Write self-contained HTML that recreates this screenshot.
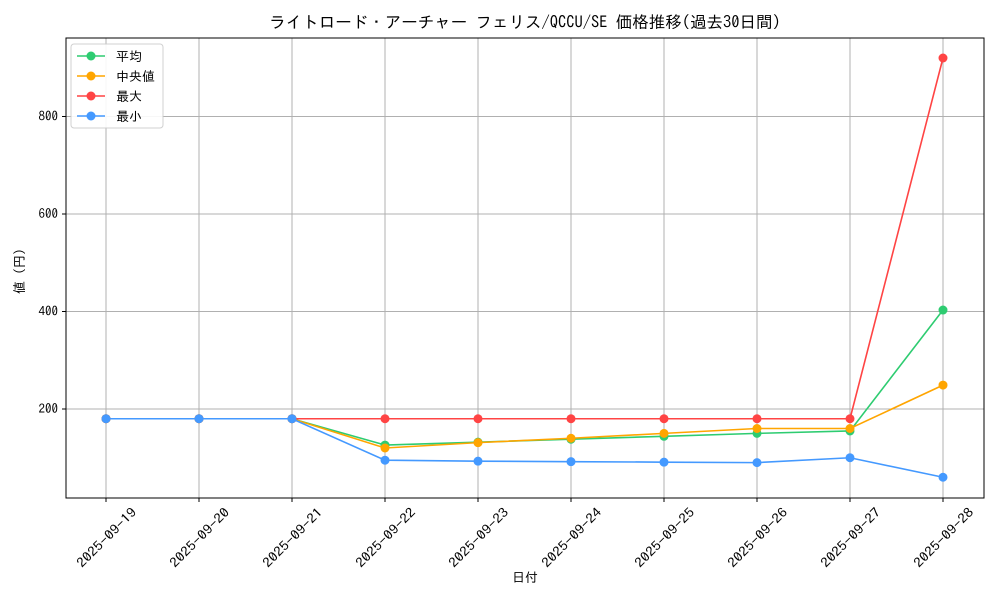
<!DOCTYPE html>
<html><head><meta charset="utf-8"><style>
body{margin:0;background:#fff;}
svg text{font-family:"IPAGothic","Noto Sans CJK JP",sans-serif;fill:#000;}
</style></head><body>
<svg id="chart" width="1000" height="600" xmlns="http://www.w3.org/2000/svg">
<rect width="1000" height="600" fill="#fff"/>
<text x="525" y="28" font-size="16.5" text-anchor="middle">ライトロード・アーチャー フェリス/QCCU/SE 価格推移(過去30日間)</text>
<g id="grid"></g>
<g id="series"></g>
<rect x="66" y="38" width="918" height="460" fill="none" stroke="#000" stroke-width="1"/>
<text x="525" y="582" font-size="13" text-anchor="middle">日付</text>
<text transform="translate(24,268) rotate(-90)" font-size="13" text-anchor="middle">値（円）</text>
<g id="legend">
<rect x="71" y="44" width="92" height="84" rx="3" fill="#fff" stroke="#ccc" opacity="0.9"/>
</g>
</svg>
<script>
const dates=["2025-09-19","2025-09-20","2025-09-21","2025-09-22","2025-09-23","2025-09-24","2025-09-25","2025-09-26","2025-09-27","2025-09-28"];
const meanVals=[180,180,180,126,132,138,144,150,155,403];
const medianVals=[180,180,180,120,131,140,150,160,160,249];
const maxVals=[180,180,180,180,180,180,180,180,180,920];
const minVals=[180,180,180,95,93,92,91,90,100,60];
const yTicks=[200,400,600,800];
const seriesNames=["平均","中央値","最大","最小"];
const colors=["#2ecc71","#ffa500","#ff4444","#4499ff"];
const NS="http://www.w3.org/2000/svg";
function xs(i){return 106+i*93;}
function ys(v){return 409-(v-200)*0.4875;}
function mk(tag,attrs,parent){const e=document.createElementNS(NS,tag);for(const k in attrs)e.setAttribute(k,attrs[k]);parent.appendChild(e);return e;}
const grid=document.getElementById('grid'),svg=document.getElementById('chart');
dates.forEach((d,i)=>{
 const l=mk('line',{x1:xs(i),x2:xs(i),y1:38,y2:498,stroke:'#b0b0b0','stroke-width':1},grid);
 
 
 const t=mk('line',{x1:xs(i),x2:xs(i),y1:498,y2:502,stroke:'#000'},grid);
 
 
 const cx=xs(i)+1,cy=538;
 const tx=mk('text',{x:cx,y:cy+4,'font-size':13,'text-anchor':'middle',textLength:78,lengthAdjust:'spacingAndGlyphs',transform:`rotate(-45 ${cx} ${cy})`},svg);
 tx.textContent=d;
 
 
});
yTicks.forEach(v=>{
 const l=mk('line',{x1:66,x2:984,y1:ys(v),y2:ys(v),stroke:'#b0b0b0','stroke-width':1},grid);
 
 
 const t=mk('line',{x1:62,x2:66,y1:ys(v),y2:ys(v),stroke:'#000'},grid);
 
 
 const tx=mk('text',{x:58,y:ys(v)+4,'font-size':13,'text-anchor':'end'},svg);
 tx.textContent=v;
 
 
});
const ser=document.getElementById('series');
const all=[meanVals,medianVals,maxVals,minVals];
const keys=['mean','median','max','min'];
all.forEach((vals,s)=>{
 const g=mk('g',{},ser);
 
 
 const p=mk('polyline',{points:vals.map((v,i)=>xs(i)+','+ys(v)).join(' '),fill:'none',stroke:colors[s],'stroke-width':1.6},g);
 
 
 vals.forEach((v,i)=>{
  const c=mk('circle',{cx:xs(i),cy:ys(v),r:4.5,fill:colors[s]},g);
  
  
 });
});
const lg=document.getElementById('legend');
seriesNames.forEach((n,s)=>{
 const y=56+s*20;
 const g=mk('g',{},lg);
 
 
 mk('line',{x1:77,x2:105,y1:y,y2:y,stroke:colors[s],'stroke-width':1.6},g);
 mk('circle',{cx:91,cy:y,r:4.5,fill:colors[s]},g);
 const t=mk('text',{x:116,y:y+5,'font-size':13},g);
 t.textContent=n;
});
</script>
</body></html>
